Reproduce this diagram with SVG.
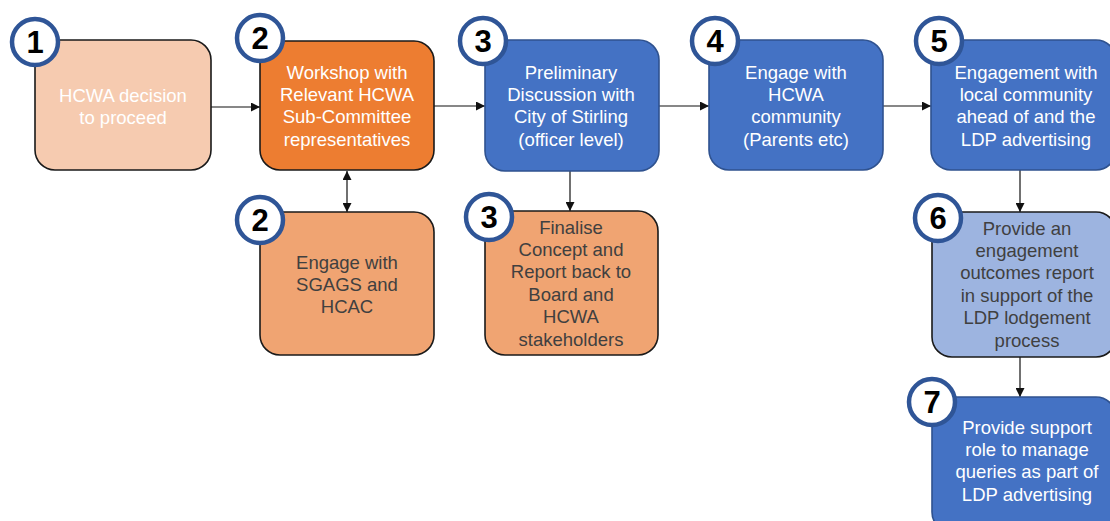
<svg xmlns="http://www.w3.org/2000/svg" width="1110" height="521" viewBox="0 0 1110 521">
<defs>
<marker id="ah" viewBox="0 0 10 10" markerWidth="9" markerHeight="9" refX="10" refY="5" orient="auto-start-reverse" markerUnits="userSpaceOnUse"><path d="M0,0 L10,5 L0,10 z" fill="#111"/></marker>
</defs>
<style>
.box{stroke:#1a1a1a;stroke-width:1.6}
.blue{fill:#4472C4;stroke:#2F528F}
.t{font-family:"Liberation Sans",Arial,sans-serif;font-size:18.5px;text-anchor:middle}
.w{fill:#ffffff}
.d{fill:#404040}
.badge circle{fill:#fff;stroke:#2F5597;stroke-width:4.5}
.badge text{font-family:"Liberation Sans",Arial,sans-serif;font-weight:bold;font-size:31px;text-anchor:middle;fill:#000}
.c{stroke:#111;stroke-width:1.2;fill:none}
</style>
<rect width="1110" height="521" fill="#fff"/>
<g id="connectors">
<path class="c" d="M211 107 H260" marker-end="url(#ah)"/>
<path class="c" d="M434 106 H485" marker-end="url(#ah)"/>
<path class="c" d="M659 106 H709" marker-end="url(#ah)"/>
<path class="c" d="M883 106 H931" marker-end="url(#ah)"/>
<path class="c" d="M347 171 V212" marker-start="url(#ah)" marker-end="url(#ah)"/>
<path class="c" d="M570 171 V211" marker-end="url(#ah)"/>
<path class="c" d="M1020 170 V212" marker-end="url(#ah)"/>
<path class="c" d="M1020 357 V397" marker-end="url(#ah)"/>
</g>
<g id="node1">
<rect class="box" x="35" y="40" width="176" height="130" rx="20" fill="#F6CBB0"/>
<text class="t w" x="123" y="101.5">HCWA decision<tspan x="123" dy="22">to proceed</tspan></text>
<g class="badge"><circle cx="35" cy="42" r="23"/><text x="35" y="53">1</text></g>
</g>
<g id="node2">
<rect class="box" x="260" y="41" width="174" height="129" rx="20" fill="#ED7D31"/>
<text class="t w" x="347" y="78.5">Workshop with<tspan x="347" dy="22.4">Relevant HCWA</tspan><tspan x="347" dy="22.4">Sub-Committee</tspan><tspan x="347" dy="22.4">representatives</tspan></text>
<g class="badge"><circle cx="260" cy="38" r="23"/><text x="260" y="49">2</text></g>
</g>
<g id="node2b">
<rect class="box" x="260" y="212" width="174" height="143" rx="20" fill="#F0A472"/>
<text class="t d" x="347" y="268.5">Engage with<tspan x="347" dy="22.4">SGAGS and</tspan><tspan x="347" dy="22.4">HCAC</tspan></text>
<g class="badge"><circle cx="260" cy="220" r="23"/><text x="260" y="231">2</text></g>
</g>
<g id="node3">
<rect class="box blue" x="485" y="40" width="174" height="131" rx="20"/>
<text class="t w" x="571" y="78.5">Preliminary<tspan x="571" dy="22.4">Discussion with</tspan><tspan x="571" dy="22.4">City of Stirling</tspan><tspan x="571" dy="22.4">(officer level)</tspan></text>
<g class="badge"><circle cx="483" cy="41" r="23"/><text x="483" y="52">3</text></g>
</g>
<g id="node3b">
<rect class="box" x="485" y="211" width="173" height="144" rx="20" fill="#F0A472"/>
<text class="t d" x="571" y="233.5">Finalise<tspan x="571" dy="22.4">Concept and</tspan><tspan x="571" dy="22.4">Report back to</tspan><tspan x="571" dy="22.4">Board and</tspan><tspan x="571" dy="22.4">HCWA</tspan><tspan x="571" dy="22.4">stakeholders</tspan></text>
<g class="badge"><circle cx="489" cy="217" r="23"/><text x="489" y="228">3</text></g>
</g>
<g id="node4">
<rect class="box blue" x="709" y="40" width="174" height="130" rx="20"/>
<text class="t w" x="796" y="78.5">Engage with<tspan x="796" dy="22.4">HCWA</tspan><tspan x="796" dy="22.4">community</tspan><tspan x="796" dy="22.4">(Parents etc)</tspan></text>
<g class="badge"><circle cx="715" cy="41" r="23"/><text x="715" y="52">4</text></g>
</g>
<g id="node5">
<rect class="box blue" x="931" y="40" width="185" height="130" rx="20"/>
<text class="t w" x="1026" y="78.5">Engagement with<tspan x="1026" dy="22.4">local community</tspan><tspan x="1026" dy="22.4">ahead of and the</tspan><tspan x="1026" dy="22.4">LDP advertising</tspan></text>
<g class="badge"><circle cx="939" cy="41" r="23"/><text x="939" y="52">5</text></g>
</g>
<g id="node6">
<rect class="box" x="932" y="212" width="184" height="145" rx="20" fill="#9DB4E0"/>
<text class="t d" x="1027" y="234.5">Provide an<tspan x="1027" dy="22.4">engagement</tspan><tspan x="1027" dy="22.4">outcomes report</tspan><tspan x="1027" dy="22.4">in support of the</tspan><tspan x="1027" dy="22.4">LDP lodgement</tspan><tspan x="1027" dy="22.4">process</tspan></text>
<g class="badge"><circle cx="938" cy="218" r="23"/><text x="938" y="229">6</text></g>
</g>
<g id="node7">
<rect class="box blue" x="932" y="397" width="184" height="135" rx="20"/>
<text class="t w" x="1027" y="433.5">Provide support<tspan x="1027" dy="22.4">role to manage</tspan><tspan x="1027" dy="22.4">queries as part of</tspan><tspan x="1027" dy="22.4">LDP advertising</tspan></text>
<g class="badge"><circle cx="932" cy="402" r="23"/><text x="932" y="413">7</text></g>
</g>
</svg>
